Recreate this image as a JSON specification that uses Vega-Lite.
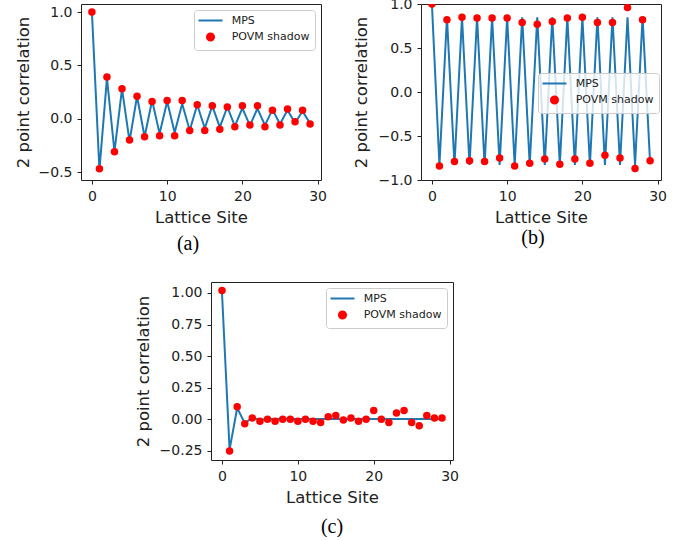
{
  "$schema": "https://vega.github.io/schema/vega-lite/v6.json",
  "padding": {"left": 14, "top": -4, "right": 0, "bottom": 0},
  "autosize": {"type": "pad"},
  "background": "white",
  "config": {
    "view": {"stroke": "#222222", "strokeWidth": 1},
    "font": "DejaVu Sans",
    "axis": {"grid": false, "domain": false, "tickColor": "#222222", "tickSize": 4, "tickWidth": 1,
             "labelFont": "DejaVu Sans", "labelFontSize": 14, "labelColor": "#222222", "labelPadding": 5,
             "titleFont": "DejaVu Sans", "titleFontSize": 16.5, "titleFontWeight": "normal", "titleColor": "#222222"},
    "legend": {"title": null, "padding": 5, "rowPadding": 2.5, "symbolSize": 56, "symbolOffset": 6, "labelOffset": 15.7,
               "labelFontSize": 11, "labelFont": "DejaVu Sans", "labelColor": "#222222", "strokeColor": "#cccccc", "fillColor": "rgba(255,255,255,0.8)", "cornerRadius": 3},
    "title": {"font": "Liberation Serif", "fontSize": 20, "fontWeight": "normal", "orient": "bottom", "color": "#000000"}
  },
  "datasets": {
    "a_mps": [
      {"site":0,"series":"MPS","corr":1.0},{"site":1,"series":"MPS","corr":-0.48},{"site":2,"series":"MPS","corr":0.38},{"site":3,"series":"MPS","corr":-0.31},{"site":4,"series":"MPS","corr":0.28},{"site":5,"series":"MPS","corr":-0.21},{"site":6,"series":"MPS","corr":0.21},{"site":7,"series":"MPS","corr":-0.17},{"site":8,"series":"MPS","corr":0.17},{"site":9,"series":"MPS","corr":-0.14},{"site":10,"series":"MPS","corr":0.16},{"site":11,"series":"MPS","corr":-0.13},{"site":12,"series":"MPS","corr":0.14},{"site":13,"series":"MPS","corr":-0.11},{"site":14,"series":"MPS","corr":0.13},{"site":15,"series":"MPS","corr":-0.09},{"site":16,"series":"MPS","corr":0.12},{"site":17,"series":"MPS","corr":-0.08},{"site":18,"series":"MPS","corr":0.11},{"site":19,"series":"MPS","corr":-0.07},{"site":20,"series":"MPS","corr":0.10},{"site":21,"series":"MPS","corr":-0.065},{"site":22,"series":"MPS","corr":0.095},{"site":23,"series":"MPS","corr":-0.06},{"site":24,"series":"MPS","corr":0.085},{"site":25,"series":"MPS","corr":-0.05},{"site":26,"series":"MPS","corr":0.08},{"site":27,"series":"MPS","corr":-0.04},{"site":28,"series":"MPS","corr":0.07},{"site":29,"series":"MPS","corr":-0.045}
    ],
    "a_povm": [
      {"site":0,"series":"POVM shadow","corr":1.0},{"site":1,"series":"POVM shadow","corr":-0.47},{"site":2,"series":"POVM shadow","corr":0.39},{"site":3,"series":"POVM shadow","corr":-0.31},{"site":4,"series":"POVM shadow","corr":0.28},{"site":5,"series":"POVM shadow","corr":-0.20},{"site":6,"series":"POVM shadow","corr":0.21},{"site":7,"series":"POVM shadow","corr":-0.17},{"site":8,"series":"POVM shadow","corr":0.16},{"site":9,"series":"POVM shadow","corr":-0.16},{"site":10,"series":"POVM shadow","corr":0.17},{"site":11,"series":"POVM shadow","corr":-0.16},{"site":12,"series":"POVM shadow","corr":0.17},{"site":13,"series":"POVM shadow","corr":-0.11},{"site":14,"series":"POVM shadow","corr":0.13},{"site":15,"series":"POVM shadow","corr":-0.11},{"site":16,"series":"POVM shadow","corr":0.12},{"site":17,"series":"POVM shadow","corr":-0.10},{"site":18,"series":"POVM shadow","corr":0.11},{"site":19,"series":"POVM shadow","corr":-0.075},{"site":20,"series":"POVM shadow","corr":0.12},{"site":21,"series":"POVM shadow","corr":-0.06},{"site":22,"series":"POVM shadow","corr":0.12},{"site":23,"series":"POVM shadow","corr":-0.075},{"site":24,"series":"POVM shadow","corr":0.08},{"site":25,"series":"POVM shadow","corr":-0.06},{"site":26,"series":"POVM shadow","corr":0.09},{"site":27,"series":"POVM shadow","corr":-0.03},{"site":28,"series":"POVM shadow","corr":0.08},{"site":29,"series":"POVM shadow","corr":-0.05}
    ],
    "b_mps": [
      {"site":0,"series":"MPS","corr":1.0},{"site":1,"series":"MPS","corr":-0.83},{"site":2,"series":"MPS","corr":0.85},{"site":3,"series":"MPS","corr":-0.83},{"site":4,"series":"MPS","corr":0.85},{"site":5,"series":"MPS","corr":-0.83},{"site":6,"series":"MPS","corr":0.85},{"site":7,"series":"MPS","corr":-0.83},{"site":8,"series":"MPS","corr":0.85},{"site":9,"series":"MPS","corr":-0.83},{"site":10,"series":"MPS","corr":0.85},{"site":11,"series":"MPS","corr":-0.83},{"site":12,"series":"MPS","corr":0.85},{"site":13,"series":"MPS","corr":-0.83},{"site":14,"series":"MPS","corr":0.85},{"site":15,"series":"MPS","corr":-0.83},{"site":16,"series":"MPS","corr":0.85},{"site":17,"series":"MPS","corr":-0.83},{"site":18,"series":"MPS","corr":0.85},{"site":19,"series":"MPS","corr":-0.83},{"site":20,"series":"MPS","corr":0.85},{"site":21,"series":"MPS","corr":-0.83},{"site":22,"series":"MPS","corr":0.85},{"site":23,"series":"MPS","corr":-0.83},{"site":24,"series":"MPS","corr":0.85},{"site":25,"series":"MPS","corr":-0.83},{"site":26,"series":"MPS","corr":0.85},{"site":27,"series":"MPS","corr":-0.83},{"site":28,"series":"MPS","corr":0.85},{"site":29,"series":"MPS","corr":-0.80}
    ],
    "b_povm": [
      {"site":0,"series":"POVM shadow","corr":1.0},{"site":1,"series":"POVM shadow","corr":-0.84},{"site":2,"series":"POVM shadow","corr":0.82},{"site":3,"series":"POVM shadow","corr":-0.79},{"site":4,"series":"POVM shadow","corr":0.85},{"site":5,"series":"POVM shadow","corr":-0.78},{"site":6,"series":"POVM shadow","corr":0.84},{"site":7,"series":"POVM shadow","corr":-0.79},{"site":8,"series":"POVM shadow","corr":0.84},{"site":9,"series":"POVM shadow","corr":-0.75},{"site":10,"series":"POVM shadow","corr":0.84},{"site":11,"series":"POVM shadow","corr":-0.84},{"site":12,"series":"POVM shadow","corr":0.79},{"site":13,"series":"POVM shadow","corr":-0.81},{"site":14,"series":"POVM shadow","corr":0.77},{"site":15,"series":"POVM shadow","corr":-0.76},{"site":16,"series":"POVM shadow","corr":0.80},{"site":17,"series":"POVM shadow","corr":-0.82},{"site":18,"series":"POVM shadow","corr":0.84},{"site":19,"series":"POVM shadow","corr":-0.76},{"site":20,"series":"POVM shadow","corr":0.85},{"site":21,"series":"POVM shadow","corr":-0.81},{"site":22,"series":"POVM shadow","corr":0.79},{"site":23,"series":"POVM shadow","corr":-0.72},{"site":24,"series":"POVM shadow","corr":0.79},{"site":25,"series":"POVM shadow","corr":-0.75},{"site":26,"series":"POVM shadow","corr":0.96},{"site":27,"series":"POVM shadow","corr":-0.87},{"site":28,"series":"POVM shadow","corr":0.82},{"site":29,"series":"POVM shadow","corr":-0.78}
    ],
    "c_mps": [
      {"site":0,"series":"MPS","corr":1.0},{"site":1,"series":"MPS","corr":-0.24},{"site":2,"series":"MPS","corr":0.09},{"site":3,"series":"MPS","corr":-0.03},{"site":4,"series":"MPS","corr":0.012},{"site":5,"series":"MPS","corr":-0.003},{"site":6,"series":"MPS","corr":0.003},{"site":7,"series":"MPS","corr":0.002},{"site":8,"series":"MPS","corr":0.003},{"site":9,"series":"MPS","corr":0.003},{"site":10,"series":"MPS","corr":0.003},{"site":11,"series":"MPS","corr":0.003},{"site":12,"series":"MPS","corr":0.003},{"site":13,"series":"MPS","corr":0.003},{"site":14,"series":"MPS","corr":0.003},{"site":15,"series":"MPS","corr":0.003},{"site":16,"series":"MPS","corr":0.003},{"site":17,"series":"MPS","corr":0.003},{"site":18,"series":"MPS","corr":0.003},{"site":19,"series":"MPS","corr":0.003},{"site":20,"series":"MPS","corr":0.003},{"site":21,"series":"MPS","corr":0.003},{"site":22,"series":"MPS","corr":0.003},{"site":23,"series":"MPS","corr":0.003},{"site":24,"series":"MPS","corr":0.003},{"site":25,"series":"MPS","corr":0.003},{"site":26,"series":"MPS","corr":0.003},{"site":27,"series":"MPS","corr":0.003},{"site":28,"series":"MPS","corr":0.003},{"site":29,"series":"MPS","corr":0.003}
    ],
    "c_povm": [
      {"site":0,"series":"POVM shadow","corr":1.02},{"site":1,"series":"POVM shadow","corr":-0.25},{"site":2,"series":"POVM shadow","corr":0.10},{"site":3,"series":"POVM shadow","corr":-0.035},{"site":4,"series":"POVM shadow","corr":0.01},{"site":5,"series":"POVM shadow","corr":-0.015},{"site":6,"series":"POVM shadow","corr":0.0},{"site":7,"series":"POVM shadow","corr":-0.015},{"site":8,"series":"POVM shadow","corr":0.0},{"site":9,"series":"POVM shadow","corr":0.0},{"site":10,"series":"POVM shadow","corr":-0.015},{"site":11,"series":"POVM shadow","corr":0.0},{"site":12,"series":"POVM shadow","corr":-0.015},{"site":13,"series":"POVM shadow","corr":-0.025},{"site":14,"series":"POVM shadow","corr":0.02},{"site":15,"series":"POVM shadow","corr":0.03},{"site":16,"series":"POVM shadow","corr":-0.005},{"site":17,"series":"POVM shadow","corr":0.01},{"site":18,"series":"POVM shadow","corr":-0.015},{"site":19,"series":"POVM shadow","corr":0.0},{"site":20,"series":"POVM shadow","corr":0.07},{"site":21,"series":"POVM shadow","corr":0.0},{"site":22,"series":"POVM shadow","corr":-0.025},{"site":23,"series":"POVM shadow","corr":0.05},{"site":24,"series":"POVM shadow","corr":0.07},{"site":25,"series":"POVM shadow","corr":-0.025},{"site":26,"series":"POVM shadow","corr":-0.05},{"site":27,"series":"POVM shadow","corr":0.03},{"site":28,"series":"POVM shadow","corr":0.01},{"site":29,"series":"POVM shadow","corr":0.01}
    ]
  },
  "spacing": 27,
  "resolve": {"scale": {"color": "independent"}, "legend": {"color": "independent"}},
  "vconcat": [
    {
      "spacing": 25,
      "resolve": {"scale": {"color": "independent"}, "legend": {"color": "independent"}},
      "hconcat": [
        {
          "width": 240, "height": 176,
          "title": {"text": "(a)", "dx": -13, "offset": 8},
          "encoding": {
            "x": {"field": "site", "type": "quantitative", "scale": {"domain": [-1.45, 30.45], "nice": false, "zero": false},
                  "axis": {"values": [0, 10, 20, 30], "title": "Lattice Site", "titlePadding": 6}},
            "y": {"field": "corr", "type": "quantitative", "scale": {"domain": [-0.575, 1.075], "nice": false, "zero": false},
                  "axis": {"values": [-0.5, 0, 0.5, 1], "format": ".1f", "title": "2 point correlation", "titlePadding": 7}},
            "color": {"field": "series", "type": "nominal", "scale": {"domain": ["MPS", "POVM shadow"], "range": ["#1f77b4", "#ff0000"]},
                      "legend": {"orient": "top-right", "offset": 6,
                                 "encode": {"symbols": {"update": {
                                   "shape": {"signal": "datum.value === 'MPS' ? 'stroke' : 'circle'"},
                                   "size": {"signal": "datum.value === 'MPS' ? 576 : 50"},
                                   "fill": {"signal": "datum.value === 'MPS' ? 'transparent' : '#ff0000'"},
                                   "stroke": {"signal": "datum.value === 'MPS' ? '#1f77b4' : 'transparent'"},
                                   "strokeWidth": {"value": 2}, "opacity": {"value": 1}}}}}}
          },
          "layer": [
            {"data": {"name": "a_mps"}, "mark": {"type": "line", "strokeWidth": 2}},
            {"data": {"name": "a_povm"}, "mark": {"type": "point", "filled": true, "opacity": 1, "size": 56}}
          ]
        },
        {
          "width": 240, "height": 176,
          "title": {"text": "(b)", "dx": -8, "offset": 2},
          "encoding": {
            "x": {"field": "site", "type": "quantitative", "scale": {"domain": [-1.45, 30.45], "nice": false, "zero": false},
                  "axis": {"values": [0, 10, 20, 30], "title": "Lattice Site", "titlePadding": 6}},
            "y": {"field": "corr", "type": "quantitative", "scale": {"domain": [-1, 1], "nice": false, "zero": false},
                  "axis": {"values": [-1, -0.5, 0, 0.5, 1], "format": ".1f", "title": "2 point correlation", "titlePadding": 8.5}},
            "color": {"field": "series", "type": "nominal", "scale": {"domain": ["MPS", "POVM shadow"], "range": ["#1f77b4", "#ff0000"]},
                      "legend": {"orient": "none", "legendX": 117, "legendY": 69,
                                 "encode": {"symbols": {"update": {
                                   "shape": {"signal": "datum.value === 'MPS' ? 'stroke' : 'circle'"},
                                   "size": {"signal": "datum.value === 'MPS' ? 576 : 50"},
                                   "fill": {"signal": "datum.value === 'MPS' ? 'transparent' : '#ff0000'"},
                                   "stroke": {"signal": "datum.value === 'MPS' ? '#1f77b4' : 'transparent'"},
                                   "strokeWidth": {"value": 2}, "opacity": {"value": 1}}}}}}
          },
          "layer": [
            {"data": {"name": "b_mps"}, "mark": {"type": "line", "strokeWidth": 2, "clip": true}},
            {"data": {"name": "b_povm"}, "mark": {"type": "point", "filled": true, "opacity": 1, "size": 56, "clip": true}}
          ]
        }
      ]
    },
    {
      "spacing": 0,
      "resolve": {"scale": {"color": "independent"}, "legend": {"color": "independent"}},
      "hconcat": [
        {"width": 53, "height": 1, "data": {"values": []}, "mark": {"type": "point", "opacity": 0}, "view": {"stroke": null}},
        {
          "width": 242, "height": 178,
          "title": {"text": "(c)", "dx": 0, "offset": 11},
          "encoding": {
            "x": {"field": "site", "type": "quantitative", "scale": {"domain": [-1.45, 30.45], "nice": false, "zero": false},
                  "axis": {"values": [0, 10, 20, 30], "title": "Lattice Site", "titlePadding": 6}},
            "y": {"field": "corr", "type": "quantitative", "scale": {"domain": [-0.322, 1.087], "nice": false, "zero": false},
                  "axis": {"values": [-0.25, 0, 0.25, 0.5, 0.75, 1], "format": ".2f", "title": "2 point correlation", "titlePadding": 7.7}},
            "color": {"field": "series", "type": "nominal", "scale": {"domain": ["MPS", "POVM shadow"], "range": ["#1f77b4", "#ff0000"]},
                      "legend": {"orient": "top-right", "offset": 6,
                                 "encode": {"symbols": {"update": {
                                   "shape": {"signal": "datum.value === 'MPS' ? 'stroke' : 'circle'"},
                                   "size": {"signal": "datum.value === 'MPS' ? 576 : 50"},
                                   "fill": {"signal": "datum.value === 'MPS' ? 'transparent' : '#ff0000'"},
                                   "stroke": {"signal": "datum.value === 'MPS' ? '#1f77b4' : 'transparent'"},
                                   "strokeWidth": {"value": 2}, "opacity": {"value": 1}}}}}}
          },
          "layer": [
            {"data": {"name": "c_mps"}, "mark": {"type": "line", "strokeWidth": 2}},
            {"data": {"name": "c_povm"}, "mark": {"type": "point", "filled": true, "opacity": 1, "size": 56}}
          ]
        }
      ]
    }
  ]
}
